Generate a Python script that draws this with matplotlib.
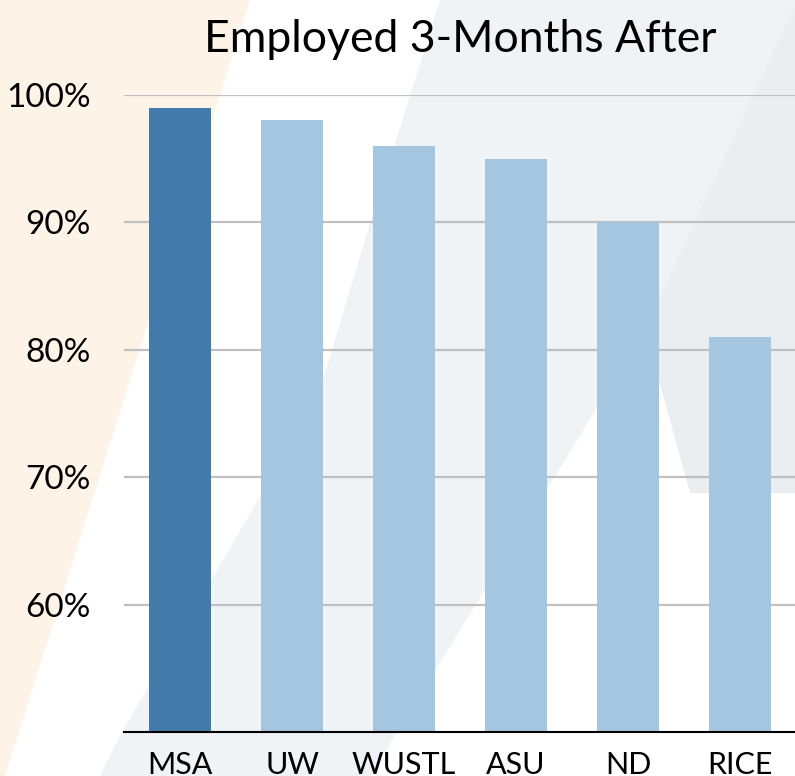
import matplotlib
matplotlib.use("Agg")
import matplotlib.pyplot as plt
from matplotlib.patches import Polygon

# data
schools = ["MSA", "UW", "WUSTL", "ASU", "ND", "RICE"]
employed_pct = [99, 98, 96, 95, 90, 81]
y_ticks = [60, 70, 80, 90, 100]

W, H = 795, 776
highlight = "#417aab"
base_blue = "#a5c6e1"

plt.rcParams["font.family"] = ["Lato", "DejaVu Sans"]

fig = plt.figure(figsize=(W / 100, H / 100), dpi=100)
fig.patch.set_facecolor("white")


def px_poly(points, color):
    """Background shape given in pixel coords (origin top-left)."""
    xy = [(x / W, 1 - y / H) for x, y in points]
    fig.patches.append(Polygon(xy, closed=True, transform=fig.transFigure,
                               facecolor=color, edgecolor="none", zorder=-10))


# soft slide background shapes
px_poly([(0, 0), (250, 0), (5, 776), (0, 776)], "#fdf3e7")
px_poly([(440, 0), (795, 0), (795, 776), (100, 776), (123, 730),
         (317, 400), (367, 233)], "#eff3f6")
px_poly([(795, 5), (645, 330), (690, 493), (795, 493)], "#eaeef0")
px_poly([(370, 776), (645, 330), (690, 493), (795, 493), (795, 776)], "white")

ax = fig.add_axes([124 / W, 1 - 732 / H, 672 / W, (732 - 95) / H])
ax.patch.set_alpha(0)

colors = [highlight] + [base_blue] * (len(schools) - 1)
ax.bar(range(len(schools)), employed_pct, width=0.55, color=colors, zorder=3)

ax.set_xlim(-0.5, len(schools) - 0.5)
ax.set_ylim(50, 100)
ax.set_yticks(y_ticks)
ax.set_yticklabels([f"{v}%" for v in y_ticks])
ax.set_xticks(range(len(schools)))
ax.set_xticklabels(schools)
ax.tick_params(axis="y", length=0, pad=24, labelsize=24)
ax.tick_params(axis="x", length=0, pad=14, labelsize=22)

ax.yaxis.grid(True, color="#c0c0c0", linewidth=1.6, zorder=0)
for side in ["top", "right", "left"]:
    ax.spines[side].set_visible(False)
ax.spines["bottom"].set_color("black")
ax.spines["bottom"].set_linewidth(1.5)
ax.spines["bottom"].set_zorder(4)

ax.set_title("Employed 3-Months After", fontsize=32, pad=31)

fig.savefig("out.png", dpi=100)
